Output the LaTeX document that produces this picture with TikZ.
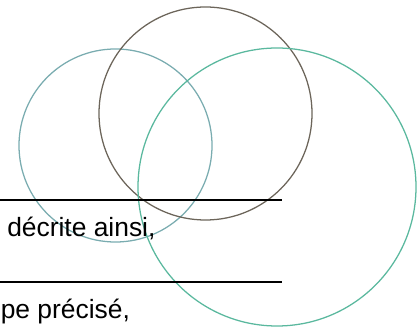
\documentclass[tikz,border=0pt]{standalone}
\usepackage{fontspec}
\setmainfont{Liberation Sans}
\definecolor{cleft}{RGB}{122,172,176}
\definecolor{cmid}{RGB}{108,101,90}
\definecolor{cright}{RGB}{90,184,158}
\begin{document}
\begin{tikzpicture}[x=0.75pt,y=-0.75pt,
  ring/.style={line width=0.95pt},
  txt/.style={anchor=base west,inner sep=0pt,font=\fontsize{19.8pt}{22pt}\selectfont}]
\useasboundingbox (0,0) rectangle (417,327);
\draw[ring,cleft] (115.5,145.5) circle[radius=96.5];
\draw[ring,cmid] (205.5,113.5) circle[radius=106.5];
\draw[ring,cright] (277,187) circle[radius=139];
\draw[line width=1.5pt] (0,200.5) -- (282,200.5);
\draw[line width=0.95pt] (0,282) -- (282,282);
\node[txt] (t1) at (7,236.7) {décrite ainsi,};
\node[txt] (t2) at (0.5,318.3) {pe précisé,};
\end{tikzpicture}
\end{document}
